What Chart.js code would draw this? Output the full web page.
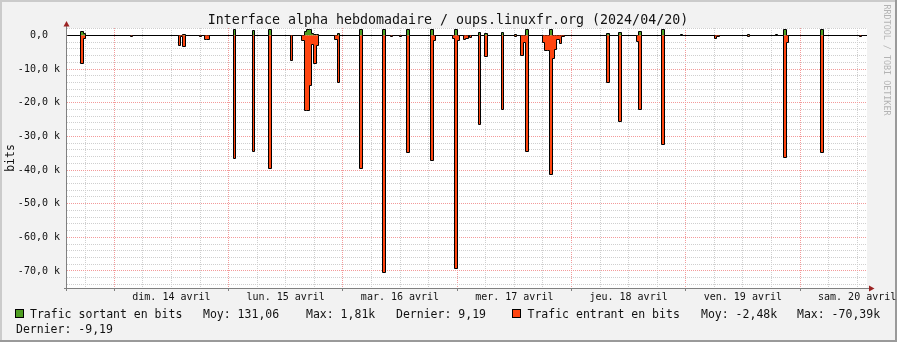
<!DOCTYPE html>
<html>
<head>
<meta charset="utf-8">
<title>Interface alpha hebdomadaire</title>
<script src="https://cdn.jsdelivr.net/npm/chart.js"></script>
<style>
  html, body { margin: 0; padding: 0; background: #f2f2f2; }
  canvas { display: block; }
</style>
</head>
<body>
<canvas id="rrd" width="897" height="342"></canvas>
<script>
// hours counted from dim. 14 avril 00:00
const X_MIN = -9.93;
const X_MAX = 158.07;
const SLOT = 0.5; // one sample = 30 min

const dayLabels = ['dim. 14 avril', 'lun. 15 avril', 'mar. 16 avril', 'mer. 17 avril',
                   'jeu. 18 avril', 'ven. 19 avril', 'sam. 20 avril'];

// sample start (hours), outgoing bits, incoming bits (negative)
const sampleHours = [
  -7.06, -6.56, 3.4, 13.4, 13.9, 14.4, 17.9, 18.9, 19.4, 25.0,
  29.0, 32.42, 36.9, 39.4, 39.9, 40.4, 40.9, 41.4, 41.9, 42.4,
  46.3, 46.8, 51.54, 56.4, 57.9, 59.8, 61.4, 66.45, 66.95, 71.0,
  71.5, 72.0, 73.3, 73.8, 74.6, 76.4, 77.8, 81.3, 84.0, 85.4,
  85.9, 86.4, 89.94, 90.44, 90.94, 91.44, 91.94, 92.44, 92.94, 93.44,
  93.94, 103.4, 105.92, 109.62, 110.12, 114.95, 118.8, 126.0, 126.5, 132.9,
  138.8, 140.58, 141.08, 148.4, 156.4
];
const outBits = [
  1300, 600, 0, 0, 0, 300, 0, 0, 0, 1810,
  1600, 1810, 0, 0, 1200, 1700, 1810, 700, 400, 400,
  0, 500, 1810, 1810, 0, 0, 1810, 1810, 0, 0,
  1810, 0, 0, 0, 0, 1000, 500, 1000, 200, 0,
  0, 1810, 0, 0, 0, 1810, 0, 0, 0, 0,
  0, 600, 1000, 0, 1200, 1810, 300, 0, 0, 200,
  300, 1810, 0, 1810, 0
];
const inBits = [
  -8300, -800, -300, -3000, -300, -3400, -400, -1200, -1200, -36700,
  -34600, -39400, -7500, -1400, -22200, -22200, -14800, -2600, -8300, -2900,
  -1100, -13900, -39400, -70390, -300, -300, -34900, -37300, -1400, -800,
  -69300, -1400, -1200, -1000, -500, -26600, -6300, -21900, -400, -6000,
  -2100, -34600, -2100, -4600, -4600, -41400, -6900, -4100, -1100, -2400,
  -300, -13900, -25500, -1900, -21900, -32300, 0, -1000, -200, -400,
  0, -36200, -2100, -34900, -300
];

const Y_MIN = -75060;
const Y_MAX = 2230;

const seriesNames = ['Trafic sortant en bits', 'Trafic entrant en bits'];
const seriesStats = [
  ['Moy: 131,06', 'Max: 1,81k', 'Dernier: 9,19'],
  ['Moy: -2,48k', 'Max: -70,39k', 'Dernier: -9,19']
];
const titleText = 'Interface alpha hebdomadaire / oups.linuxfr.org (2024/04/20)';

const GREEN = '#4f9e22';
const ORANGE = '#ff4510';
const MONO = '"DejaVu Sans Mono", monospace';

// turn samples into step points (value held for one slot, zero in between)
function stepPoints(values) {
  const pts = [{ x: X_MIN, y: 0 }];
  sampleHours.forEach((t, i) => {
    pts.push({ x: t, y: values[i] });
    const next = sampleHours[i + 1];
    if (next === undefined || next > t + SLOT + 1e-6) pts.push({ x: t + SLOT, y: 0 });
  });
  pts.push({ x: X_MAX, y: 0 });
  return pts;
}

const xTicks = [];
for (let h = -6; h < X_MAX; h += 6) xTicks.push(h);
const yTicks = [];
for (let v = -74000; v <= Y_MAX; v += 2000) yTicks.push(v);

const isDay = v => Math.abs(v % 24) < 1e-6;
const isTen = v => Math.abs(v % 10000) < 1e-6;

// rrdtool snaps its areas to the pixel grid: do the same with the computed points
const pixelSnap = {
  id: 'pixelSnap',
  afterDatasetsUpdate(chart) {
    chart.data.datasets.forEach((ds, i) => {
      chart.getDatasetMeta(i).data.forEach(pt => {
        pt.x = Math.floor(pt.x) + 0.5;
        pt.y = Math.floor(pt.y) + 0.5;
      });
    });
  }
};

const rrdFrame = {
  id: 'rrdFrame',
  beforeDraw(chart) {
    const { ctx, chartArea: a, width, height } = chart;
    ctx.save();
    ctx.fillStyle = '#f2f2f2';
    ctx.fillRect(0, 0, width, height);
    ctx.fillStyle = '#cbcbcb';
    ctx.fillRect(0, 0, width, 2);
    ctx.fillRect(0, 0, 2, height);
    ctx.fillStyle = '#9a9a9a';
    ctx.fillRect(0, height - 2, width, 2);
    ctx.fillRect(width - 2, 0, 2, height);
    ctx.fillStyle = '#ffffff';
    ctx.fillRect(a.left, a.top, a.right - a.left, a.bottom - a.top);
    ctx.restore();
  },
  afterDraw(chart) {
    const { ctx, chartArea: a } = chart;
    ctx.save();
    // axes
    ctx.strokeStyle = '#808080';
    ctx.lineWidth = 1;
    ctx.beginPath();
    ctx.moveTo(a.left - 0.5, a.bottom + 3);
    ctx.lineTo(a.left - 0.5, 24);
    ctx.moveTo(a.left - 3, a.bottom + 0.5);
    ctx.lineTo(a.right + 3, a.bottom + 0.5);
    ctx.stroke();
    // arrows
    ctx.fillStyle = '#9b2323';
    ctx.beginPath();
    ctx.moveTo(a.left - 3.5, 26.5);
    ctx.lineTo(a.left + 2.5, 26.5);
    ctx.lineTo(a.left - 0.5, 21);
    ctx.closePath();
    ctx.fill();
    ctx.beginPath();
    ctx.moveTo(a.right + 2, a.bottom - 2.5);
    ctx.lineTo(a.right + 2, a.bottom + 3.5);
    ctx.lineTo(a.right + 7.5, a.bottom + 0.5);
    ctx.closePath();
    ctx.fill();

    // title
    ctx.fillStyle = '#111';
    ctx.font = '13.3px ' + MONO;
    ctx.textAlign = 'center';
    ctx.textBaseline = 'alphabetic';
    ctx.fillText(titleText, 448, 24);

    // vertical label
    ctx.save();
    ctx.translate(14, 158);
    ctx.rotate(-Math.PI / 2);
    ctx.font = '11.5px ' + MONO;
    ctx.textAlign = 'center';
    ctx.fillText('bits', 0, 0);
    ctx.restore();

    // watermark
    ctx.save();
    ctx.translate(884, 60);
    ctx.rotate(Math.PI / 2);
    ctx.fillStyle = '#b4b4b4';
    ctx.font = '8.4px ' + MONO;
    ctx.textAlign = 'center';
    ctx.fillText('RRDTOOL / TOBI OETIKER', 0, 0);
    ctx.restore();

    // legend
    ctx.font = '11.5px ' + MONO;
    ctx.textAlign = 'left';
    ctx.fillStyle = '#111';
    const box = (x, y, c) => {
      ctx.fillStyle = c;
      ctx.fillRect(x, y, 9, 9);
      ctx.strokeStyle = '#000';
      ctx.strokeRect(x + 0.5, y + 0.5, 8, 8);
      ctx.fillStyle = '#111';
    };
    box(15, 309, GREEN);
    ctx.fillText(seriesNames[0], 30, 317.5);
    ctx.fillText(seriesStats[0][0], 203, 317.5);
    ctx.fillText(seriesStats[0][1], 306, 317.5);
    ctx.fillText(seriesStats[0][2], 396, 317.5);
    box(512, 309, ORANGE);
    ctx.fillText(seriesNames[1], 527.5, 317.5);
    ctx.fillText(seriesStats[1][0], 701, 317.5);
    ctx.fillText(seriesStats[1][1], 797, 317.5);
    ctx.fillText(seriesStats[1][2], 16, 332.5);
    ctx.restore();
  }
};

new Chart(document.getElementById('rrd').getContext('2d'), {
  type: 'line',
  data: {
    datasets: [
      {
        label: seriesNames[1],
        data: stepPoints(inBits),
        stepped: true,
        borderColor: '#000',
        borderWidth: 1,
        backgroundColor: ORANGE,
        fill: 'origin',
        pointRadius: 0
      },
      {
        label: seriesNames[0],
        data: stepPoints(outBits),
        stepped: true,
        borderColor: '#000',
        borderWidth: 1,
        backgroundColor: GREEN,
        fill: 'origin',
        pointRadius: 0
      }
    ]
  },
  options: {
    responsive: false,
    animation: false,
    devicePixelRatio: 1,
    layout: { padding: { left: 0, top: 28, right: 30, bottom: 0 } },
    plugins: {
      legend: { display: false },
      tooltip: { enabled: false },
      title: { display: false }
    },
    scales: {
      x: {
        type: 'linear',
        min: X_MIN,
        max: X_MAX,
        afterBuildTicks: s => { s.ticks = xTicks.map(v => ({ value: v })); },
        afterFit: s => { s.height = 54; s.paddingLeft = 0; s.paddingRight = 0; },
        grid: {
          color: c => isDay(c.tick.value) ? '#f39a9a' : '#cfcfcf',
          tickColor: c => isDay(c.tick.value) ? '#808080' : 'rgba(0,0,0,0)',
          tickLength: 3,
          lineWidth: 1
        },
        border: { display: false, dash: [1, 1] },
        ticks: {
          autoSkip: false,
          maxRotation: 0,
          minRotation: 0,
          padding: 0,
          color: '#111',
          font: { family: MONO, size: 10 },
          callback: v => {
            const d = (v - 12) / 24;
            return Math.abs(d - Math.round(d)) < 1e-6 ? dayLabels[Math.round(d)] : '';
          }
        }
      },
      y: {
        min: Y_MIN,
        max: Y_MAX,
        afterBuildTicks: s => { s.ticks = yTicks.map(v => ({ value: v })); },
        afterFit: s => { s.width = 67; s.paddingTop = 0; s.paddingBottom = 0; },
        grid: {
          color: c => isTen(c.tick.value) ? '#f39a9a' : '#cfcfcf',
          drawTicks: false,
          lineWidth: 1
        },
        border: { display: false, dash: [1, 1] },
        ticks: {
          autoSkip: false,
          padding: 7,
          color: '#111',
          font: { family: MONO, size: 10 },
          callback: v => {
            if (!isTen(v)) return '';
            if (v === 0) return '0,0  ';
            return (v / 1000).toFixed(1).replace('.', ',') + ' k';
          }
        }
      }
    }
  },
  plugins: [pixelSnap, rrdFrame]
});
</script>
</body>
</html>
